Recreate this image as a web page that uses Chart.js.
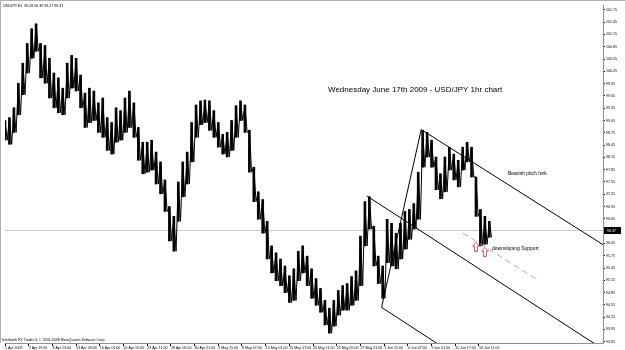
<!DOCTYPE html>
<html>
<head>
<meta charset="utf-8">
<script src="https://cdn.jsdelivr.net/npm/chart.js@4/dist/chart.umd.min.js"></script>
<style>
  html, body { margin: 0; padding: 0; background: #fff; }
  #wrap { width: 625px; height: 350px; position: relative; }
</style>
</head>
<body>
<div id="wrap"><canvas id="fxChart"></canvas></div>
<script>
// bar axis: one unit = one hourly bar, labels every 64 bars
const xLabels = ['1 Apr 2009', '2 Apr 19:00', '8 Apr 13:00', '13 Apr 09:00', '16 Apr 01:00', '20 Apr 19:00',
    '23 Apr 11:00', '28 Apr 05:00', '30 Apr 21:00', '5 May 15:00', '8 May 07:00', '13 May 01:00',
    '15 May 17:00', '20 May 11:00', '25 May 05:00', '27 May 21:00', '1 Jun 15:00', '4 Jun 07:00',
    '9 Jun 01:00', '11 Jun 17:00', '16 Jun 11:00'];
const barsPerLabel = 64;
const yTicks = [101.75, 101.45, 101.15, 100.85, 100.55, 100.25, 99.95, 99.65, 99.35, 99.05, 98.75, 98.45,
    98.15, 97.85, 97.55, 97.25, 96.95, 96.65, 96.05, 95.75, 95.45, 95.15, 94.85, 94.55, 94.25, 93.95, 93.65];

// price ranges, one entry per 12 bars
const barStep = 12;
const highs = [99.05, 99.12, 99.36, 99.96, 100.45, 100.93, 101.29, 101.41, 100.93, 100.88,
    100.57, 100.21, 100.09, 99.84, 100.45, 100.64, 100.57, 100.16, 99.72, 99.84,
    99.77, 99.48, 99.60, 99.12, 99.00, 99.36, 99.29, 99.60, 99.77, 99.48,
    98.88, 98.52, 98.52, 98.57, 98.28, 98.04, 97.60, 96.95, 96.71, 97.55,
    98.04, 98.28, 99.00, 99.43, 99.53, 99.55, 99.53, 99.29, 99.00, 98.71,
    98.76, 99.05, 99.41, 99.53, 99.43, 98.81, 97.91, 97.31, 97.12, 96.59,
    95.99, 95.82, 95.67, 95.50, 95.26, 95.43, 95.86, 95.99, 95.74, 95.43,
    95.19, 94.95, 94.66, 94.47, 94.66, 94.90, 95.02, 95.07, 95.24, 95.38,
    96.23, 97.07, 97.19, 96.47, 95.74, 95.50, 96.64, 96.54, 96.30, 96.54,
    96.83, 96.88, 97.02, 97.79, 98.81, 98.76, 98.57, 98.16, 97.75, 98.16,
    98.40, 98.23, 98.08, 98.40, 98.52, 98.40, 97.67, 96.88, 96.71, 96.59];
const lows = [98.57, 98.47, 98.76, 99.19, 99.68, 100.21, 100.57, 100.74, 100.09, 99.96,
    99.60, 99.36, 99.24, 99.19, 99.60, 99.84, 99.77, 99.36, 98.88, 99.00,
    99.05, 98.76, 98.64, 98.32, 98.23, 98.52, 98.57, 98.76, 98.88, 98.64,
    98.08, 97.75, 97.79, 97.84, 97.50, 97.26, 96.83, 96.11, 95.86, 96.59,
    97.19, 97.50, 98.04, 98.64, 98.95, 99.00, 98.81, 98.64, 98.40, 98.23,
    98.16, 98.32, 98.64, 99.05, 98.76, 97.79, 97.07, 96.64, 96.30, 95.67,
    95.33, 95.14, 95.02, 94.85, 94.61, 94.66, 95.14, 95.33, 95.02, 94.71,
    94.54, 94.37, 94.06, 93.86, 94.03, 94.30, 94.42, 94.42, 94.54, 94.66,
    95.02, 95.99, 96.40, 95.50, 95.07, 94.71, 95.58, 95.50, 95.43, 95.67,
    95.91, 96.15, 96.40, 96.64, 97.91, 98.16, 97.91, 97.36, 97.14, 97.31,
    97.84, 97.60, 97.43, 97.84, 98.04, 97.67, 96.71, 95.99, 96.03, 96.20];
const lastPrice = 96.37;

// pitchfork and support drawn on the chart (bar index, price)
const forkA = { x: 977, y: 97.21 };
const forkB = { x: 1017, y: 94.49 };
const forkC = { x: 1124, y: 98.83 };
const upperEnd = { x: 1615, y: 96.02 };
const medianEnd = { x: 1615, y: 93.47 };
const lowerEnd = { x: 1194, y: 93.45 };
const supportLine = [{ x: 1237, y: 96.30 }, { x: 1433, y: 95.19 }];
const arrowX = [1272, 1296];
const arrowY = [95.97, 95.85];

const priceBars = lows.map((lo, i) => ({ x: i * barStep, y: [lo, highs[i]] }));
// high/low swings between the bars, gives the jagged hourly texture
const swings = [];
highs.forEach((hi, i) => {
    swings.push({ x: i * barStep, y: hi });
    swings.push({ x: i * barStep + barStep / 2, y: lows[i] });
});

function arrowImage() {
    const c = document.createElement('canvas');
    c.width = 8; c.height = 10;
    const g = c.getContext('2d');
    g.strokeStyle = '#e0507a';
    g.lineWidth = 1;
    g.beginPath();
    g.moveTo(4, 0.5); g.lineTo(7.5, 4.5); g.lineTo(5.5, 4.5); g.lineTo(5.5, 9.5);
    g.lineTo(2.5, 9.5); g.lineTo(2.5, 4.5); g.lineTo(0.5, 4.5); g.closePath();
    g.stroke();
    return c;
}

function segment(p, q, extra) {
    return Object.assign({
        type: 'line', data: [p, q], borderColor: '#000', borderWidth: 1,
        pointRadius: 0, tension: 0, clip: 0, order: 1
    }, extra || {});
}

const tinyFont = '3.6px "Liberation Sans", Arial';

const overlay = {
    id: 'overlay',
    beforeDatasetsDraw(chart) {
        const { ctx, chartArea: a, scales: { y } } = chart;
        const py = Math.round(y.getPixelForValue(lastPrice)) + 0.5;
        ctx.save();
        ctx.strokeStyle = '#c8c8c8';
        ctx.lineWidth = 1;
        ctx.beginPath(); ctx.moveTo(a.left, py); ctx.lineTo(a.right, py); ctx.stroke();
        ctx.restore();
    },
    afterDraw(chart) {
        const { ctx, chartArea: a, scales: { y } } = chart;
        ctx.save();
        // window frame
        ctx.strokeStyle = '#b0b0b0';
        ctx.beginPath(); ctx.moveTo(0, 0.5); ctx.lineTo(625, 0.5); ctx.moveTo(0.5, 0); ctx.lineTo(0.5, a.bottom); ctx.stroke();

        // last price box on the axis
        const py = Math.round(y.getPixelForValue(lastPrice));
        ctx.fillStyle = '#000';
        ctx.fillRect(a.right + 1, py - 3, 17, 7);
        ctx.fillStyle = '#fff';
        ctx.font = tinyFont;
        ctx.textBaseline = 'middle';
        ctx.fillText(lastPrice.toFixed(2), a.right + 4, py + 0.5);

        ctx.fillStyle = '#000';
        ctx.textBaseline = 'alphabetic';
        ctx.fillText('USDJPY,H1  96.28 96.39 96.27 96.37', 3, 7);
        ctx.fillText('Interbank FX Trader 4, \u00a9 2001-2008 MetaQuotes Software Corp.', 2, a.bottom - 2);

        ctx.font = '8px "Liberation Sans", Arial';
        ctx.fillText('Wednesday June 17th 2009 - USD/JPY 1hr chart', 328, 92);
        ctx.font = '5px "Liberation Sans", Arial';
        ctx.fillText('Bearish pitch fork', 508, 175);
        ctx.fillText('downsloping Support', 492, 250);
        ctx.restore();
    }
};

new Chart(document.getElementById('fxChart').getContext('2d'), {
    type: 'bar',
    data: {
        datasets: [
            segment(forkB, forkC),
            segment(forkC, upperEnd),
            segment(forkA, medianEnd),
            segment(forkB, lowerEnd),
            segment(supportLine[0], supportLine[1], { borderColor: '#b8a4aa', borderDash: [6, 4] }),
            {
                type: 'scatter',
                data: arrowX.map((x, i) => ({ x: x, y: arrowY[i] })),
                pointStyle: arrowImage(),
                order: 0
            },
            {
                type: 'line',
                data: swings,
                borderColor: '#000',
                borderWidth: 1,
                pointRadius: 0,
                tension: 0,
                order: 4
            },
            {
                type: 'bar',
                data: priceBars,
                backgroundColor: '#000',
                barThickness: 2,
                order: 5
            }
        ]
    },
    options: {
        responsive: true,
        maintainAspectRatio: false,
        animation: false,
        events: [],
        layout: { padding: { top: 1, left: 1, right: 0, bottom: 0 } },
        plugins: { legend: { display: false }, tooltip: { enabled: false } },
        scales: {
            x: {
                type: 'linear',
                position: 'bottom',
                offset: false,
                min: 0,
                max: 1615,
                border: { color: '#909090' },
                grid: { offset: false, drawOnChartArea: false, drawTicks: true, tickLength: 3, color: '#000' },
                ticks: {
                    align: 'start',
                    maxRotation: 0,
                    autoSkip: false,
                    padding: 0,
                    color: '#000',
                    font: { size: 3.6, family: '"Liberation Sans", Arial' },
                    callback: (v, i) => xLabels[i]
                },
                afterBuildTicks: s => { s.ticks = xLabels.map((l, i) => ({ value: i * barsPerLabel })); },
                afterFit: s => { s.height = 7; }
            },
            y: {
                position: 'right',
                min: 93.62,
                max: 101.87,
                border: { color: '#909090' },
                grid: { drawOnChartArea: false, drawTicks: true, tickLength: 2, color: '#000' },
                ticks: {
                    padding: 1,
                    color: '#000',
                    font: { size: 3.6, family: '"Liberation Sans", Arial' },
                    callback: v => v.toFixed(2)
                },
                afterBuildTicks: s => { s.ticks = yTicks.map(v => ({ value: v })); },
                afterFit: s => { s.width = 22; }
            }
        }
    },
    plugins: [overlay]
});
</script>
</body>
</html>
